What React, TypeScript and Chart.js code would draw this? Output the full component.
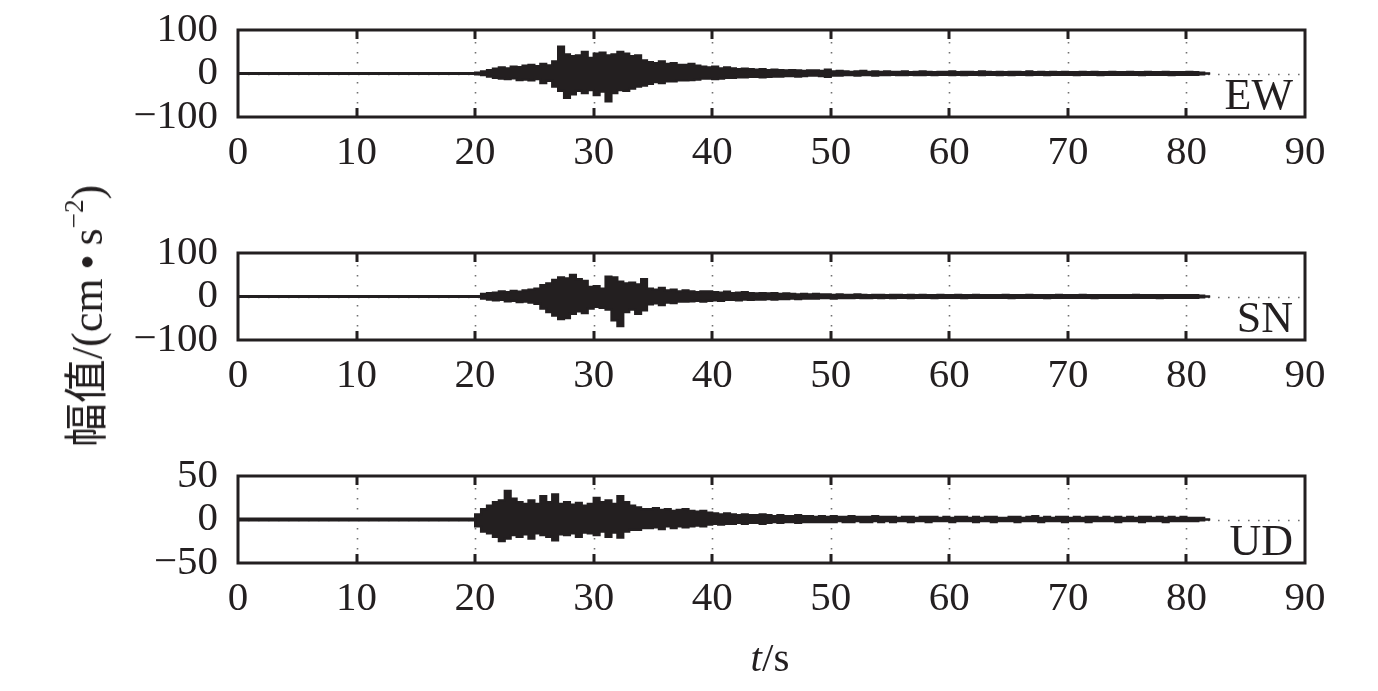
import React, { useEffect, useRef } from 'react';
import { Chart, registerables } from 'chart.js';

Chart.register(...registerables);

// ---- data ----
const X_TICKS = [0, 10, 20, 30, 40, 50, 60, 70, 80, 90]; // t / s
const T_START = 20; // first envelope bin (s); record is at rest before this
const BIN = 0.5; // envelope bin width (s): positive and negative peak per bin
const T_END = 82; // end of record (s)

// EW component, cm·s^-2, positive and negative peaks per 0.5 s bin from 20 s
const EW_HI = [
  1, 2, 5, 8, 11, 14, 12, 16, 15, 18,
  20, 17, 22, 19, 28, 62, 44, 40, 42, 50,
  36, 46, 48, 42, 44, 50, 46, 40, 42, 30,
  26, 24, 28, 22, 24, 20, 20, 22, 18, 16,
  14, 16, 12, 14, 12, 10, 11, 10, 9, 10,
  8, 9, 8, 7, 8, 7, 6, 7, 7, 6,
  9, 5, 6, 5, 4, 5, 6, 4, 5, 4,
  5, 4, 4, 5, 3, 4, 5, 4, 3, 4,
  4, 5, 3, 4, 4, 3, 5, 4, 3, 4,
  3, 4, 4, 3, 5, 3, 4, 3, 4, 3,
  4, 3, 3, 4, 3, 4, 3, 3, 4, 3,
  3, 4, 3, 3, 4, 3, 3, 4, 3, 3,
  3, 4, 3, 2,
];
const EW_LO = [
  -1, -2, -4, -7, -10, -12, -13, -11, -15, -14,
  -16, -13, -22, -17, -30, -40, -56, -48, -40, -45,
  -38, -50, -42, -64, -45, -38, -40, -35, -30, -28,
  -24, -20, -22, -18, -18, -16, -16, -15, -14, -12,
  -12, -13, -12, -10, -10, -9, -9, -8, -8, -9,
  -8, -7, -7, -6, -6, -7, -6, -5, -5, -6,
  -8, -5, -5, -4, -4, -5, -4, -4, -5, -4,
  -4, -3, -4, -4, -3, -4, -4, -3, -4, -3,
  -3, -4, -3, -4, -3, -3, -4, -3, -3, -4,
  -3, -4, -3, -3, -4, -3, -3, -4, -3, -3,
  -3, -3, -4, -3, -3, -3, -4, -3, -3, -3,
  -3, -3, -3, -4, -3, -3, -3, -3, -4, -3,
  -3, -3, -3, -2,
];

// SN component
const SN_HI = [
  1, 1, 6, 8, 9, 12, 10, 13, 11, 14,
  16, 18, 26, 30, 38, 44, 42, 50, 40, 36,
  22, 24, 18, 46, 44, 34, 30, 32, 28, 40,
  18, 16, 20, 14, 16, 12, 14, 12, 10, 12,
  12, 10, 9, 11, 8, 9, 10, 8, 7, 8,
  7, 8, 6, 7, 6, 5, 6, 5, 6, 5,
  5, 4, 5, 4, 4, 5, 4, 3, 4, 4,
  3, 4, 4, 3, 4, 3, 4, 3, 3, 4,
  3, 3, 4, 3, 3, 4, 3, 3, 3, 3,
  4, 3, 3, 3, 4, 3, 3, 3, 3, 4,
  3, 3, 3, 4, 3, 3, 3, 3, 3, 3,
  3, 3, 4, 3, 3, 3, 3, 3, 3, 3,
  3, 3, 3, 2,
];
const SN_LO = [
  -1, -1, -5, -7, -9, -8, -11, -10, -13, -12,
  -14, -17, -28, -36, -44, -52, -50, -40, -34, -38,
  -28, -24, -26, -30, -55, -68, -36, -30, -40, -32,
  -18, -16, -20, -14, -15, -12, -12, -11, -10, -12,
  -10, -9, -10, -8, -8, -9, -7, -8, -7, -7,
  -6, -7, -6, -6, -5, -6, -5, -5, -5, -4,
  -4, -5, -4, -4, -4, -3, -4, -4, -3, -4,
  -3, -4, -3, -3, -4, -3, -3, -3, -4, -3,
  -3, -3, -3, -4, -3, -3, -3, -3, -3, -3,
  -3, -4, -3, -3, -3, -3, -3, -4, -3, -3,
  -3, -3, -3, -3, -3, -4, -3, -3, -3, -3,
  -3, -3, -3, -3, -3, -3, -4, -3, -3, -3,
  -3, -3, -3, -2,
];

// UD component
const UD_HI = [
  1, 6, 12, 16, 20, 22, 33, 24, 20, 18,
  22, 18, 27, 20, 29, 18, 20, 17, 19, 16,
  18, 25, 20, 22, 18, 27, 20, 16, 14, 12,
  12, 13, 11, 12, 10, 11, 12, 10, 9, 10,
  8, 7, 6, 7, 6, 5, 6, 5, 5, 6,
  5, 4, 5, 4, 4, 5, 4, 4, 3, 4,
  3, 4, 3, 3, 4, 3, 3, 3, 4, 3,
  3, 3, 2, 3, 3, 2, 3, 3, 3, 2,
  3, 2, 3, 3, 2, 3, 2, 3, 3, 2,
  2, 3, 3, 2, 3, 4, 2, 3, 2, 3,
  3, 2, 3, 2, 3, 3, 2, 3, 2, 3,
  2, 3, 2, 3, 3, 2, 3, 2, 3, 2,
  3, 2, 2, 2,
];
const UD_LO = [
  -1, -8, -14, -16, -20, -25, -22, -18, -20, -17,
  -22, -16, -18, -20, -24, -17, -18, -16, -20, -15,
  -16, -18, -14, -20, -15, -21, -14, -12, -12, -10,
  -10, -9, -11, -8, -10, -8, -9, -8, -7, -8,
  -6, -5, -6, -5, -5, -4, -5, -4, -4, -5,
  -4, -3, -4, -3, -3, -4, -3, -3, -3, -3,
  -3, -3, -2, -3, -3, -2, -3, -3, -2, -3,
  -2, -3, -2, -2, -3, -2, -2, -3, -2, -2,
  -2, -3, -2, -2, -2, -3, -2, -2, -3, -2,
  -2, -2, -3, -2, -2, -2, -3, -2, -2, -2,
  -3, -2, -2, -2, -3, -2, -2, -2, -2, -3,
  -2, -2, -2, -3, -2, -2, -2, -3, -2, -2,
  -2, -2, -2, -1,
];

const COMPONENTS = ['EW', 'SN', 'UD'];
const Y_LIMITS = [100, 100, 50];

// ---- styling ----
const INK = '#231f20';
const SERIF = "'Liberation Serif', 'Times New Roman', serif";
const W = 1378;
const PANEL_TOPS = [0, 223, 446]; // canvas offsets on the page
const CANVAS_H = [223, 223, 245];
const PAD_TOP = [30, 30, 30];
const X_AXIS_H = [106, 106, 128];

function envelope(vals: number[]) {
  const pts: { x: number; y: number }[] = [{ x: 0, y: 0 }];
  vals.forEach((v, i) => pts.push({ x: T_START + i * BIN, y: v }));
  pts.push({ x: T_END, y: 0 });
  return pts;
}

const framePlugin = {
  id: 'frame',
  beforeDatasetsDraw(chart: any) {
    const { ctx, chartArea: a, scales } = chart;
    const x = scales.x;
    const y = scales.y;
    ctx.save();
    ctx.strokeStyle = '#707070';
    ctx.lineWidth = 1.6;
    ctx.setLineDash([1.6, 8.4]);
    X_TICKS.forEach((v) => {
      if (v <= x.min || v >= x.max) return;
      const px = Math.round(x.getPixelForValue(v)) + 0.5;
      ctx.beginPath();
      ctx.moveTo(px, a.top + 12);
      ctx.lineTo(px, a.bottom - 10);
      ctx.stroke();
    });
    const y0 = Math.round(y.getPixelForValue(0)) + 0.5;
    ctx.beginPath();
    ctx.moveTo(a.left, y0);
    ctx.lineTo(a.right, y0);
    ctx.stroke();
    ctx.restore();
  },
  afterDraw(chart: any, _args: any, opts: any) {
    const { ctx, chartArea: a, scales } = chart;
    const x = scales.x;
    ctx.save();
    ctx.setLineDash([]);
    ctx.strokeStyle = INK;
    ctx.lineWidth = 3;
    ctx.strokeRect(a.left, a.top, a.right - a.left, a.bottom - a.top);
    X_TICKS.forEach((v) => {
      if (v <= x.min || v >= x.max) return;
      const px = Math.round(x.getPixelForValue(v));
      ctx.beginPath();
      ctx.moveTo(px, a.top);
      ctx.lineTo(px, a.top + 9);
      ctx.moveTo(px, a.bottom);
      ctx.lineTo(px, a.bottom - 9);
      ctx.stroke();
    });
    if (opts && opts.label) {
      ctx.fillStyle = INK;
      ctx.font = `44px ${SERIF}`;
      ctx.textAlign = 'right';
      ctx.textBaseline = 'alphabetic';
      ctx.fillText(opts.label, a.right - 12, a.bottom - 8);
    }
    ctx.restore();
  },
};

function fmt(v: number) {
  return v < 0 ? '\u2212' + Math.abs(v) : String(v);
}

function zeroPadding(s: any) {
  s.paddingTop = 0;
  s.paddingBottom = 0;
  s.paddingLeft = 0;
  s.paddingRight = 0;
}

function makeConfig(k: number): any {
  const his = [EW_HI, SN_HI, UD_HI][k];
  const los = [EW_LO, SN_LO, UD_LO][k];
  const lim = Y_LIMITS[k];
  return {
    type: 'line',
    data: {
      datasets: [
        {
          label: COMPONENTS[k] + ' +',
          data: envelope(his),
          borderColor: INK,
          backgroundColor: INK,
          borderWidth: 2.2,
          pointRadius: 0,
          stepped: 'after',
          fill: false,
        },
        {
          label: COMPONENTS[k] + ' −',
          data: envelope(los),
          borderColor: INK,
          backgroundColor: INK,
          borderWidth: 2.2,
          pointRadius: 0,
          stepped: 'after',
          fill: '-1',
        },
      ],
    },
    options: {
      animation: false,
      responsive: false,
      events: [],
      layout: { padding: { top: PAD_TOP[k], right: W - 1305, left: 0, bottom: 0 } },
      plugins: {
        legend: { display: false },
        tooltip: { enabled: false },
        title: { display: false },
        filler: { propagate: false },
        frame: { label: COMPONENTS[k] },
      },
      scales: {
        x: {
          type: 'linear',
          min: X_TICKS[0],
          max: X_TICKS[X_TICKS.length - 1],
          afterBuildTicks: (s: any) => {
            s.ticks = X_TICKS.map((v) => ({ value: v }));
          },
          afterFit: (s: any) => {
            s.height = X_AXIS_H[k];
            zeroPadding(s);
          },
          grid: { display: false, drawTicks: false },
          border: { display: false },
          ticks: {
            color: INK,
            padding: 12,
            maxRotation: 0,
            autoSkip: false,
            font: { family: SERIF, size: 41 },
            callback: (v: number) => fmt(v),
          },
        },
        y: {
          type: 'linear',
          min: -lim,
          max: lim,
          afterBuildTicks: (s: any) => {
            s.ticks = [-lim, 0, lim].map((v) => ({ value: v }));
          },
          afterFit: (s: any) => {
            s.width = 238;
            zeroPadding(s);
          },
          grid: { display: false, drawTicks: false },
          border: { display: false },
          ticks: {
            color: INK,
            padding: 20,
            autoSkip: false,
            font: { family: SERIF, size: 41 },
            callback: (v: number) => fmt(v),
          },
        },
      },
    },
    plugins: [framePlugin],
  };
}

export default function App() {
  const r0 = useRef<HTMLCanvasElement>(null);
  const r1 = useRef<HTMLCanvasElement>(null);
  const r2 = useRef<HTMLCanvasElement>(null);
  const refs = [r0, r1, r2];

  useEffect(() => {
    const charts = refs.map((r, k) => new Chart(r.current as HTMLCanvasElement, makeConfig(k)));
    return () => charts.forEach((c) => c.destroy());
  }, []);

  return (
    <div style={{ position: 'absolute', left: 0, top: 0, width: W, height: 691, background: '#fff', overflow: 'hidden' }}>
      {refs.map((r, k) => (
        <canvas
          key={k}
          ref={r}
          width={W}
          height={CANVAS_H[k]}
          style={{ position: 'absolute', left: 0, top: PANEL_TOPS[k], width: W, height: CANVAS_H[k], display: 'block' }}
        />
      ))}
      <div
        style={{
          position: 'absolute',
          left: 88,
          top: 316,
          transform: 'translate(-50%, -50%) rotate(-90deg)',
          whiteSpace: 'nowrap',
          fontFamily: "'Liberation Serif', 'Noto Sans CJK SC', serif",
          fontSize: 44,
          lineHeight: 1,
          color: INK,
        }}
      >
        幅值/(cm{'\u2009'}•{'\u2009'}s<span style={{ fontSize: '0.62em', position: 'relative', top: '-0.7em' }}>−2</span>)
      </div>
      <div
        style={{
          position: 'absolute',
          left: 770,
          top: 657,
          transform: 'translate(-50%, -50%)',
          whiteSpace: 'nowrap',
          fontFamily: SERIF,
          fontSize: 41,
          lineHeight: 1,
          color: INK,
        }}
      >
        <i>t</i>/s
      </div>
    </div>
  );
}
